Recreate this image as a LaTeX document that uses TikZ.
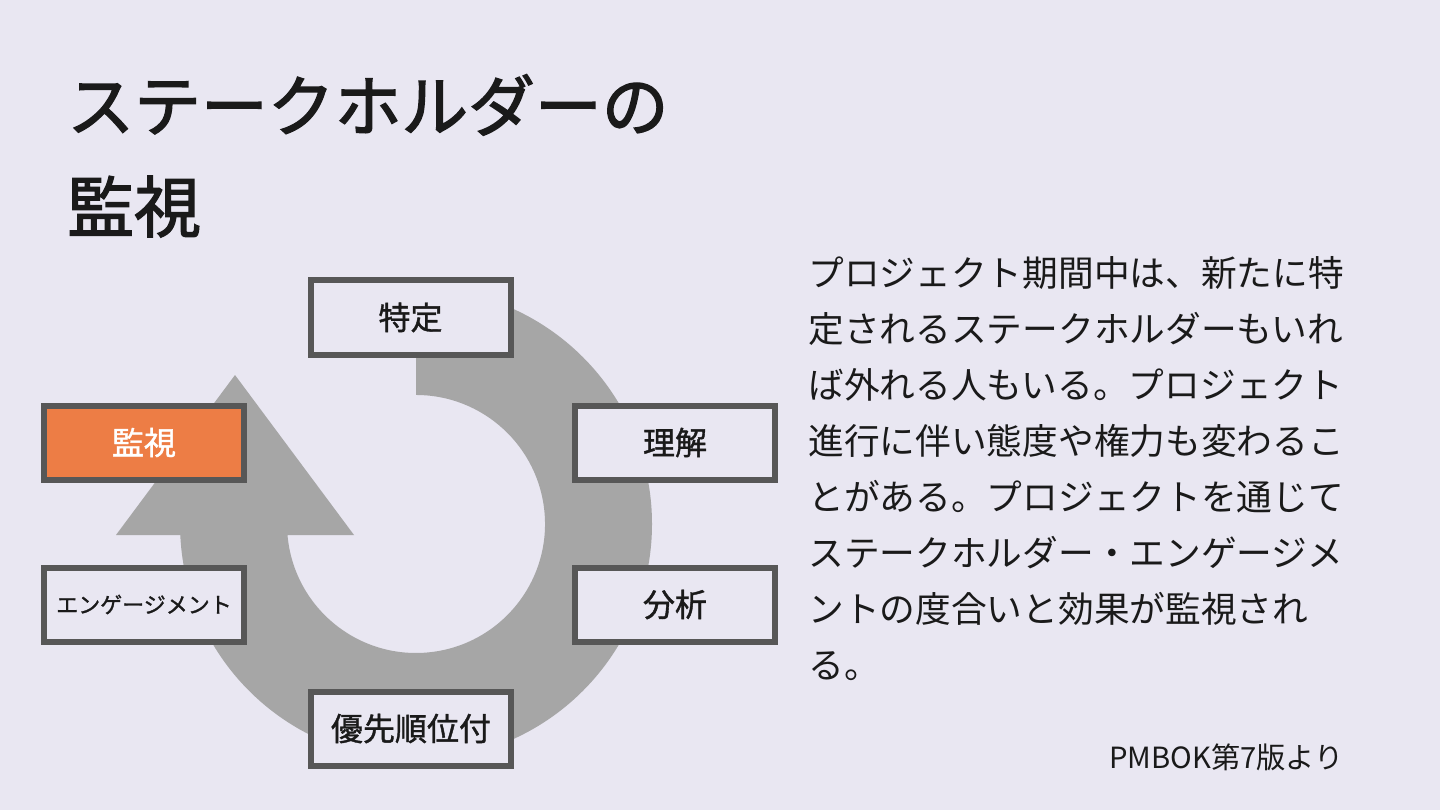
\documentclass[tikz,border=0pt]{standalone}
\usepackage{fontspec}
\setmainfont{Noto Sans CJK JP}
\newfontfamily\headfont{Noto Sans CJK JP}[FakeBold=2]
\newfontfamily\labelfont{Noto Sans CJK JP}[FakeBold=1.2]
\definecolor{slidebg}{HTML}{E9E7F2}
\definecolor{ringgray}{HTML}{A6A6A6}
\definecolor{boxline}{HTML}{575757}
\definecolor{monorange}{HTML}{ED7D45}
\definecolor{inkblack}{HTML}{1A1A1A}
\begin{document}
\begin{tikzpicture}[x=0.5pt,y=0.5pt,
  stage/.style={draw=boxline,line width=3pt,fill=slidebg,minimum width=100pt,minimum height=37pt,inner sep=0pt,text=inkblack,font=\labelfont\fontsize{16}{18}\selectfont},
  current/.style={stage,fill=monorange,text=white}]
  \fill[slidebg] (0,0) rectangle (1440,810);
  \useasboundingbox (0,0) rectangle (1440,810);
  % title
  \node[anchor=north west,inner sep=0pt,align=left,text=inkblack,font=\headfont\fontsize{33.4}{50.5}\selectfont] (title) at (67,736) {ステークホルダーの\\監視};
  % cycle arrow
  \fill[ringgray] (416,522) arc[start angle=90,end angle=-177.3,radius=236]
    -- (116,275) -- (235,435) -- (354,275)
    -- (287.5,275) arc[start angle=-175.1,end angle=90,radius=129] -- cycle;
  % steps
  \node[stage] (identify) at (410.5,492.5) {特定};
  \node[stage] (understand) at (675,367.5) {理解};
  \node[stage] (analyze) at (675,205.5) {分析};
  \node[stage] (prioritize) at (411,81.5) {優先順位付};
  \node[stage,font=\labelfont\fontsize{11}{13}\selectfont] (engage) at (144,205.5) {エンゲージメント};
  \node[current] (monitor) at (144,367.5) {監視};
  % description
  \node[anchor=north west,inner sep=0pt,align=left,text=inkblack,font=\fontsize{17.85}{28}\selectfont] (desc) at (808,554) {プロジェクト期間中は、新たに特\\定されるステークホルダーもいれ\\ば外れる人もいる。プロジェクト\\進行に伴い態度や権力も変わるこ\\とがある。プロジェクトを通じて\\ステークホルダー・エンゲージメ\\ントの度合いと効果が監視され\\る。};
  \node[anchor=base east,inner sep=0pt,text=inkblack,font=\fontsize{14.6}{17}\selectfont] (source) at (1344,42) {PMBOK第7版より};
\end{tikzpicture}
\end{document}
